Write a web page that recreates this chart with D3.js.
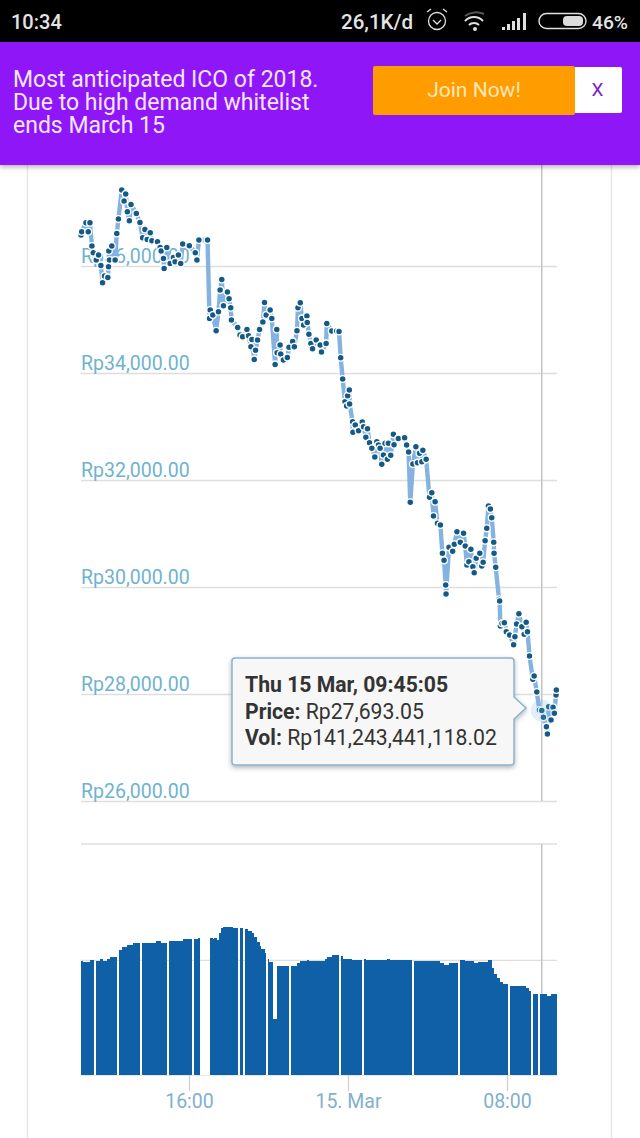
<!DOCTYPE html>
<html><head><meta charset="utf-8">
<script src="https://cdnjs.cloudflare.com/ajax/libs/d3/7.8.5/d3.min.js"></script>
<style>html,body{margin:0;padding:0;background:#fff;overflow:hidden}svg{display:block}text{font-family:Roboto,sans-serif}</style>
</head><body><svg id="c" width="640" height="1138"></svg>
<script>
// Minutes after 14 Mar 10:34
const priceMinutes=[0,2,15,22,27,33,37,46,53,60,65,71,81,83,84,86,93,103,108,113,123,130,135,140,146,151,167,178,186,193,200,209,214,231,239,242,249,251,259,269,279,284,294,301,307,327,345,350,356,382,388,390,398,408,415,420,425,430,442,447,452,454,473,480,488,501,506,513,516,523,527,533,539,549,554,559,571,576,586,591,592,601,603,611,623,628,639,644,652,655,662,667,672,682,683,688,694,699,710,722,726,740,742,757,772,
779,784,790,797,802,805,810,811,820,821,828,838,849,853,860,865,871,878,887,893,898,903,908,913,918,925,928,935,943,945,958,977,983,989,994,1002,1011,1016,1022,1029,1032,1042,1052,1059,1064,1069,1076,1085,1091,1096,1101,1102,1111,1122,1127,1135,1145,1155,1160,1165,1171,1177,1183,1187,1193,1204,1210,1214,1220,1225,1230,1236,1240,1246,1247,1252,1262,
1264,1266,1271,1278,1284,1294,1306,1310,1315,1322,1331,1338,1344,1348,1354,1364,1368,1376,1384,1391,1396,1405,1408,1412,1419,1425,1429,1434,1435];
const priceValues=[36578,36640,36809,36640,36809,36373,36248,36111,36204,36011,35687,35812,35787,35986,36279,36111,36373,36111,36609,36877,37419,37214,37344,37014,36846,37151,36983,36815,36528,36684,36497,36622,36472,36453,36348,36279,36142,35955,36348,36049,36161,36080,36204,36049,36410,36379,36248,36111,36485,36485,35021,35176,35083,34790,35145,35550,35750,35257,35513,35388,35220,34990,34852,34709,34678,34815,34697,34491,34628,34254,34423,34616,34815,34952,35320,35083,35176,35021,34161,34815,34379,34522,34354,34242,34292,34479,34591,34491,34790,35220,35313,35021,34896,35064,34946,34722,34553,34454,34616,34522,34391,34553,34927,34784,34784,
34778,34286,33887,33464,33383,33576,33682,33420,33090,32891,33028,32922,33084,32997,32797,32959,32697,32592,32430,32716,32654,32592,32293,32467,32685,32386,32685,32461,32853,32660,32778,32791,32654,32523,31582,32299,32623,32324,32498,32342,32554,32386,31676,31763,31327,31595,31190,31159,30629,30498,30037,29869,30741,30666,30797,31034,30835,31003,30766,30411,30473,30704,30380,30268,30536,30629,30392,30461,30866,31096,31514,31458,31296,30835,30629,30368,29769,
29738,29271,29321,29333,29165,29103,28922,29072,29308,29502,29259,29115,29340,29165,28710,28274,28337,28037,27701,27693.05,27564,27390,27253,27763,27514,27751,27639,27981,28075];
// Volume columns: start minute, end minute, value in billions of Rp
const volStart=[0,7,27,45,57,67,78,88,115,123,138,158,184,226,242,265,309,341,354,390,398,402,410,418,422,430,460,479,495,505,515,523,531,539,543,555,565,569,580,592,635,651,661,682,688,737,744,757,785,792,817,855,861,923,933,1005,1084,1096,1112,1144,1160,1185,1197,1230,1241,1247,1255,1265,1275,1296,1343,1351,1365,1386,1406,1418];
const volEnd=[7,27,39,57,67,78,88,109,123,138,158,178,226,242,259,309,334,354,359,398,402,410,418,422,430,460,473,489,505,515,523,531,539,543,555,559,569,579,592,629,651,661,682,688,737,744,757,778,792,817,849,861,923,933,999,1084,1096,1112,1138,1160,1185,1197,1230,1241,1247,1255,1265,1275,1289,1343,1351,1359,1380,1406,1418,1437];
const volValues=[158.2,157.7,158.7,158.2,159.2,158.2,159.2,160.3,163.8,165.4,166.4,167.4,167.4,168.4,167.4,168.4,169.5,169.5,170,170,169.5,170,168.9,172.5,175.1,175.6,175.1,175.1,174.6,173.5,172.5,170.5,167.9,165.9,164.3,162.3,159.2,157.7,128.6,155.7,155.7,157.2,158.2,158.7,158.2,159.2,160.3,161.3,160.8,159.2,158.7,159.2,158.7,159.2,158.7,158.2,157.2,156.2,157.2,158.7,158.2,157.2,157.7,158.7,154.6,151.6,149.5,147.5,146.5,145.5,144.4,142.9,141.4,141.24,140.3,141.4];
const priceTicks=[26000,28000,30000,32000,34000,36000];
const volGrid=[158.6,218];
const timeTicks=[new Date(2018,2,14,16,0),new Date(2018,2,15,0,0),new Date(2018,2,15,8,0)];
const timeLabels=["16:00","15. Mar","08:00"];
const hoverIndex=priceMinutes.indexOf(1391);
const tooltipLines=[["Thu 15 Mar, 09:45:05",""],["Price: ","Rp27,693.05"],["Vol: ","Rp141,243,441,118.02"]];

const t0=new Date(2018,2,14,10,34);
const at=m=>new Date(t0.getTime()+m*60000);
const x=d3.scaleTime().domain([at(0),at(1437)]).range([81,557]);
const y=d3.scaleLinear().domain([26000,36000]).range([801,266]);
const yv=d3.scaleLinear().domain([100,218]).range([1075,844]);
const svg=d3.select("#c");
const defs=svg.append("defs");
const shadow=defs.append("filter").attr("id","sh").attr("x","-10%").attr("y","-10%").attr("width","120%").attr("height","130%");
shadow.append("feDropShadow").attr("dx",0).attr("dy",2).attr("stdDeviation",2.5).attr("flood-color","#000").attr("flood-opacity",.3);

// page card
[27.5,611.5].forEach(px=>svg.append("line").attr("x1",px).attr("x2",px).attr("y1",165).attr("y2",1138).attr("stroke","#e6e6e6").attr("stroke-width",1.5));

// price axis
const gy=svg.append("g").attr("transform","translate(81,0)").call(d3.axisRight(y).tickValues(priceTicks).tickSize(476).tickFormat(d=>"Rp"+d3.format(",.2f")(d)));
gy.select(".domain").remove();
gy.selectAll("line").attr("stroke","#dedede").attr("stroke-width",1.3);
gy.selectAll("text").attr("x",0).attr("dy",-4).attr("text-anchor","start").attr("fill","#6fb3cf").style("font-size","19.5px").style("font-family","Roboto,sans-serif");

// volume grid
svg.append("g").selectAll("line").data(volGrid).join("line").attr("x1",81).attr("x2",557).attr("y1",d=>yv(d)).attr("y2",d=>yv(d)).attr("stroke","#dedede").attr("stroke-width",1.3);

// crosshair
const cx=x(at(priceMinutes[hoverIndex]));
[[165,801],[844,1075]].forEach(s=>svg.append("line").attr("x1",cx).attr("x2",cx).attr("y1",s[0]).attr("y2",s[1]).attr("stroke","#c4c4c4").attr("stroke-width",1.5));

// volume bars
svg.append("g").attr("shape-rendering","crispEdges").selectAll("rect").data(volValues).join("rect")
 .attr("x",(d,i)=>x(at(volStart[i]))).attr("width",(d,i)=>x(at(volEnd[i]))-x(at(volStart[i])))
 .attr("y",d=>yv(d)).attr("height",d=>yv(100)-yv(d)).attr("fill","#0f60a6");

// time axis
const gx=svg.append("g").attr("transform","translate(0,1075)").call(d3.axisBottom(x).tickValues(timeTicks).tickSize(16).tickSizeOuter(0).tickFormat((d,i)=>timeLabels[i]));
gx.select(".domain").attr("stroke","#e4e8ec").attr("stroke-width",1);
gx.selectAll("line").attr("stroke","#d0d0d0").attr("stroke-width",1.3);
gx.selectAll("text").attr("y",19).attr("dy","0.71em").attr("fill","#7fb0cc").style("font-size","19.5px").style("font-family","Roboto,sans-serif");

// price line
const pts=priceValues.map((v,i)=>({t:at(priceMinutes[i]),v}));
svg.append("path").datum(pts).attr("fill","none").attr("stroke","#84b3e2").attr("stroke-width",4.4).attr("stroke-linejoin","round")
 .attr("d",d3.line().x(d=>x(d.t)).y(d=>y(d.v)));
svg.append("g").selectAll("circle").data(pts).join("circle").attr("cx",d=>x(d.t)).attr("cy",d=>y(d.v)).attr("r",3.4)
 .attr("fill","#155a86").attr("stroke","#fff").attr("stroke-width",1.3);
const hv=pts[hoverIndex];
svg.append("circle").attr("cx",x(hv.t)).attr("cy",y(hv.v)).attr("r",11).attr("fill","#7cb0e2").attr("opacity",.22);

// tooltip
const tip=svg.append("g");
tip.append("path").attr("d","M235,658H511a3,3 0 0 1 3,3V697L526,708L514,719V762a3,3 0 0 1 -3,3H235a3,3 0 0 1 -3,-3V661a3,3 0 0 1 3,-3Z")
 .attr("fill","#f7f7f7").attr("stroke","#86b3cf").attr("stroke-width",1.5).attr("filter","url(#sh)");
tooltipLines.forEach((l,i)=>{
 const t=tip.append("text").attr("x",245).attr("y",692+i*26.6).attr("fill","#333").style("font-size","21.2px");
 t.append("tspan").attr("font-weight",700).text(l[0]);
 if(l[1])t.append("tspan").text(l[1]);
});

// status bar
svg.append("rect").attr("width",640).attr("height",42).attr("fill","#000");
const st=(s,px,size,anchor)=>svg.append("text").attr("x",px).attr("y",29).attr("fill","#e4e4e4").attr("font-weight",500).attr("text-anchor",anchor||"start").style("font-size",size+"px").text(s);
st("10:34",11,20);st("26,1K/d",341,20.5);st("46%",628,19.2,"end");
const ic=svg.append("g").attr("fill","none").attr("stroke","#e0e0e0");
ic.append("circle").attr("cx",437).attr("cy",21).attr("r",8.5).attr("stroke-width",1.3);
ic.append("path").attr("d","M433,20l4,4l4,-4M427,12l4,-3M447,12l-4,-3").attr("stroke-width",1.3);
ic.append("path").attr("d","M465,21a12,12 0 0 1 18,0M469,25a7,7 0 0 1 10,0").attr("stroke-width",2);
ic.append("path").attr("d","M465,16a17,15 0 0 1 19,-2").attr("stroke","#555").attr("stroke-width",2);
ic.append("circle").attr("cx",475).attr("cy",29).attr("r",2).attr("fill","#e0e0e0").attr("stroke","none");
[[502,27,3],[507,24,6],[512,21,9],[517,18,12],[523,13,17]].forEach(b=>ic.append("rect").attr("x",b[0]).attr("y",b[1]).attr("width",3).attr("height",b[2]).attr("fill","#e0e0e0").attr("stroke","none"));
ic.append("rect").attr("x",539).attr("y",13.5).attr("width",47).attr("height",15).attr("rx",7.5).attr("stroke-width",1.4);
ic.append("rect").attr("x",563).attr("y",16).attr("width",20).attr("height",10).attr("rx",4).attr("fill","#dcdcdc").attr("stroke","none");

// banner
svg.append("rect").attr("y",42).attr("width",640).attr("height",123).attr("fill","#8e14f7").attr("filter","url(#sh)");
["Most anticipated ICO of 2018.","Due to high demand whitelist","ends March 15"].forEach((s,i)=>svg.append("text").attr("x",13).attr("y",87+i*23).attr("fill","#f5e6ff").style("font-size","23px").text(s));
svg.append("rect").attr("x",574).attr("y",67).attr("width",48).attr("height",46).attr("rx",2).attr("fill","#fff");
svg.append("rect").attr("x",373).attr("y",66).attr("width",202).attr("height",49).attr("rx",2).attr("fill","#ff9c00");
svg.append("text").attr("x",474).attr("y",97).attr("text-anchor","middle").attr("fill","#fde7b8").style("font-size","21px").text("Join Now!");
svg.append("text").attr("x",597.5).attr("y",96).attr("text-anchor","middle").attr("fill","#7a25c8").style("font-size","19px").text("X");
</script></body></html>
